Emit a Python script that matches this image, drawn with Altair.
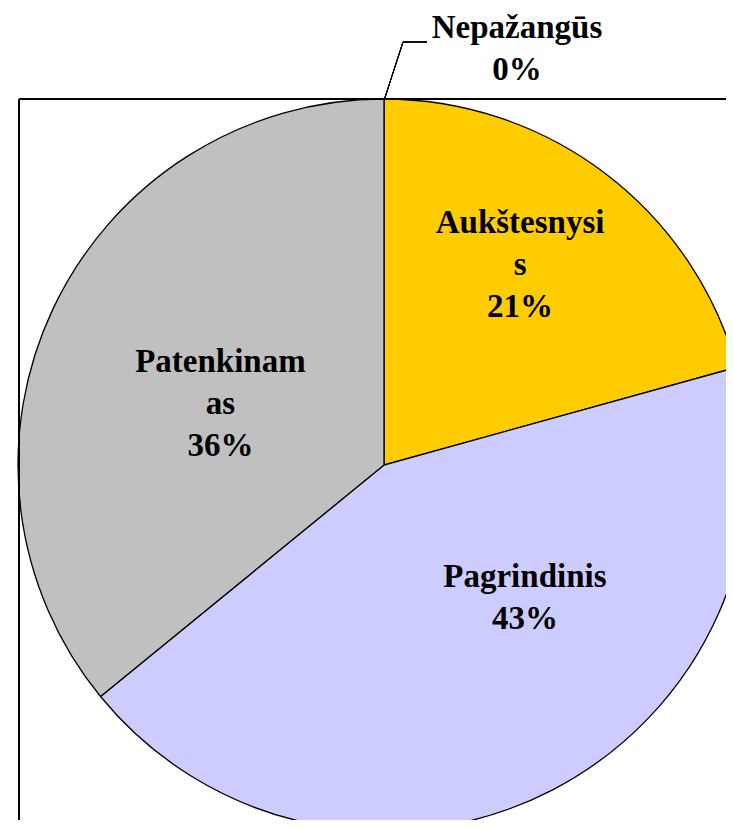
import math
import altair as alt
import pandas as pd

# ---- data ----
categories = ["Nepažangūs", "Aukštesnysis", "Pagrindinis", "Patenkinamas"]
values = [0.0, 20.7, 43.4, 35.9]
label_names = ["Nepažangūs", "Aukštesnysi\ns", "Pagrindinis", "Patenkinam\nas"]
colors = ["#FFFFFF", "#FFCC00", "#CCCCFF", "#C0C0C0"]

total = sum(values)
mids = []
acc = 0
for v in values:
    mids.append(acc + v / 2)
    acc += v

df = pd.DataFrame({
    "cat": categories,
    "value": values,
    "idx": list(range(len(categories))),
    "mid": mids,
    "label": [f"{n}\n{round(v / total * 100)}%" for n, v in zip(label_names, values)],
})

# chart must fit inside the 734x830 window minus the 8px body margins
W, H = 718, 812
CX, CY, R = 376, 457, 366
FONT = "Liberation Serif"
LH = 42

theta_scale = alt.Scale(domain=[0, total], range=[0, 2 * math.pi])

base = alt.Chart(df)

pie = base.mark_arc(radius=R, stroke="black", strokeWidth=1.3).encode(
    x=alt.value(CX),
    y=alt.value(CY),
    theta=alt.Theta("value:Q", stack=True, scale=theta_scale),
    color=alt.Color("cat:N", scale=alt.Scale(domain=categories, range=colors), legend=None),
    order=alt.Order("idx:Q"),
)

# frame (left and top edges of the plot area box)
frame_left = base.mark_rule(color="black", strokeWidth=1.5).encode(
    x=alt.value(11), y=alt.value(91), y2=alt.value(H + 20)
)
frame_top = base.mark_rule(color="black", strokeWidth=1.5).encode(
    x=alt.value(11), x2=alt.value(W + 20), y=alt.value(91)
)

# leader line for the 0% slice
leader1 = base.mark_rule(color="black", strokeWidth=1).encode(
    x=alt.value(376.5), y=alt.value(91), x2=alt.value(395), y2=alt.value(34)
)
leader2 = base.mark_rule(color="black", strokeWidth=1).encode(
    x=alt.value(395), y=alt.value(34), x2=alt.value(419), y2=alt.value(34)
)

# label placement per slice: (radius, dx, dy) -> anchor is first line baseline
placement = {
    "Nepažangūs": (R, 133, -61),
    "Aukštesnysis": (200, 15, -73),
    "Pagrindinis": (200, 49, -56),
    "Patenkinamas": (170, -10, -20),
}

texts = []
for cat in categories:
    rr, ddx, ddy = placement[cat]
    t = base.transform_filter(alt.datum.cat == cat).mark_text(
        radius=rr, dx=ddx, dy=ddy, font=FONT, fontSize=33, fontWeight="bold",
        color="black", align="center", baseline="alphabetic",
        lineBreak="\n", lineHeight=LH,
    ).encode(
        x=alt.value(CX),
        y=alt.value(CY),
        theta=alt.Theta("mid:Q", stack=False, scale=theta_scale),
        text="label:N",
    )
    texts.append(t)

chart = alt.layer(pie, frame_left, frame_top, leader1, leader2, *texts).properties(
    width=W, height=H,
    autosize=alt.AutoSizeParams(type="none"),
    padding=0,
    background="white",
).configure_view(stroke=None)

chart.save("out.html", embed_options={"renderer": "svg", "actions": False})
